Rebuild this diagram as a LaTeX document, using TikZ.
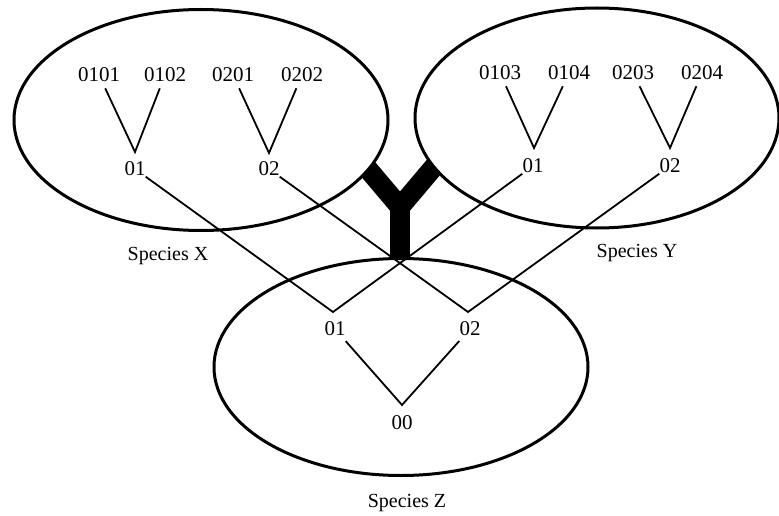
\documentclass[tikz,border=0pt]{standalone}
\usepackage{fontspec}
\setmainfont{Liberation Serif}
\usetikzlibrary{shapes.geometric}
\begin{document}
\begin{tikzpicture}[x=1pt,y=-1pt,
  lab/.style={font=\fontsize{21}{21}\selectfont, inner xsep=0pt, inner ysep=6pt},
  spname/.style={font=\fontsize{20}{20}\selectfont, inner sep=0pt},
  species/.style={ellipse, draw=black, fill=white, line width=3pt, inner sep=0pt},
  link/.style={line width=1.8pt},
  bond/.style={line width=20pt, line join=miter}]
\useasboundingbox (0,0) rectangle (779,516);

% thick Y joining the three species (drawn first, the ellipse fills hide its ends)
\coordinate (ybase) at (400,262);
\coordinate (yfork) at (400,207);
\coordinate (yleft) at (340,136);
\coordinate (yright) at (460,136);
\draw[bond] (yleft) -- (yfork) -- (yright);
\draw[bond] (yfork) -- (ybase);

% species ellipses
\node[species, minimum width=374pt, minimum height=221pt] (spx) at (201,120) {};
\node[species, minimum width=364pt, minimum height=220pt] (spy) at (597,118) {};
\node[species, minimum width=374pt, minimum height=217pt] (spz) at (401,367) {};

% species X
\node[lab] (x0101) at (99,75) {0101};
\node[lab] (x0102) at (165,75) {0102};
\node[lab] (x0201) at (233,75) {0201};
\node[lab] (x0202) at (302,75) {0202};
\coordinate (vx1) at (135,152);
\coordinate (vx2) at (269,153);
\node[lab] (x01) at (135,169) {01};
\node[lab] (x02) at (269,169) {02};
\draw[link] (x0101) -- (vx1) -- (x0102);
\draw[link] (x0201) -- (vx2) -- (x0202);

% species Y
\node[lab] (y0103) at (500,73) {0103};
\node[lab] (y0104) at (569,73) {0104};
\node[lab] (y0203) at (633,73) {0203};
\node[lab] (y0204) at (702,73) {0204};
\coordinate (vy1) at (534,148);
\coordinate (vy2) at (670,148);
\node[lab] (y01) at (533,166) {01};
\node[lab] (y02) at (670,166) {02};
\draw[link] (y0103) -- (vy1) -- (y0104);
\draw[link] (y0203) -- (vy2) -- (y0204);

% species Z
\coordinate (vz1) at (333,312);
\coordinate (vz2) at (468,312);
\node[lab] (z01) at (335,329) {01};
\node[lab] (z02) at (470,329) {02};
\coordinate (vz0) at (402,405);
\node[lab] (z00) at (402,423) {00};
\draw[link] (z01) -- (vz0) -- (z02);

% crossing links between the species
\draw[link] (x01) -- (vz1) -- (y01);
\draw[link] (x02) -- (vz2) -- (y02);

% species names
\node[spname] (nx) at (168,256) {Species X};
\node[spname] (ny) at (637,253) {Species Y};
\node[spname] (nz) at (407,503) {Species Z};
\end{tikzpicture}
\end{document}
